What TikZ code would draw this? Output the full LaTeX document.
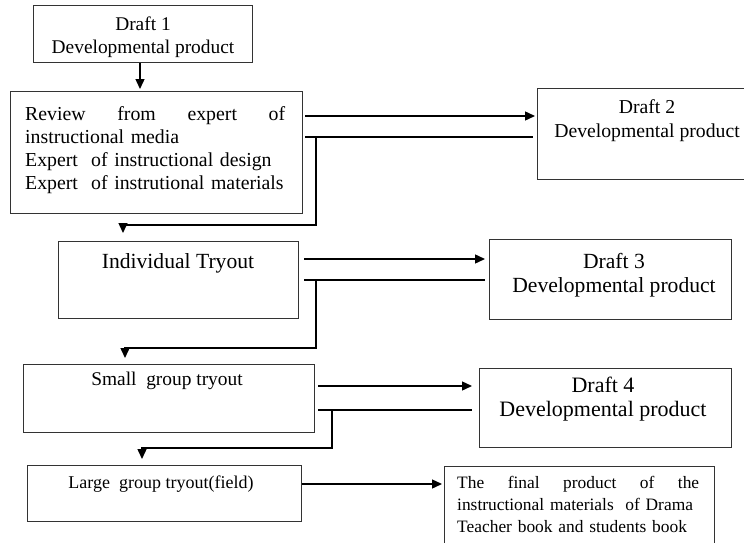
\documentclass[tikz,border=0pt]{standalone}
\usepackage{fontspec}
\setmainfont{Liberation Serif}
\usetikzlibrary{arrows.meta}
\begin{document}
\begin{tikzpicture}[x=1pt,y=-1pt,
  box/.style={draw=black!80, line width=1.3pt, rectangle, inner sep=0pt, anchor=north west},
  conn/.style={draw=black, line width=1.4pt},
  arr/.style={conn, -{Triangle[length=10pt,width=9pt]}},
  txt/.style={inner sep=0pt, align=center},
  fa/.style={font=\fontsize{19.4}{23}\selectfont},
  fb/.style={font=\fontsize{21.6}{24}\selectfont}]
\useasboundingbox (0,0) rectangle (744,543);
% boxes
\node[box, minimum width=219, minimum height=57] (d1) at (33,5) {};
\node[box, minimum width=292, minimum height=122] (rev) at (10,91) {};
\node[box, minimum width=213, minimum height=91] (d2) at (537,88) {};
\node[box, minimum width=240, minimum height=77] (ind) at (58,241) {};
\node[box, minimum width=242, minimum height=80] (d3) at (489,239) {};
\node[box, minimum width=291, minimum height=68] (sm) at (23,364) {};
\node[box, minimum width=252, minimum height=79] (d4) at (479,368) {};
\node[box, minimum width=274, minimum height=56] (lg) at (27,465) {};
\node[box, minimum width=270, minimum height=90] (fin) at (444,466) {};
% texts
\node[txt, fa] (d1t) at (143,37) {Draft 1\\Developmental product};
\node[txt, font=\fontsize{19.8}{23}\selectfont, text width=260, align=left, anchor=north west] (revt) at (25,106)
  {Review\hfill from\hfill expert\hfill of\\instructional media\\Expert\ \ of instructional design\\Expert\ \ of instrutional materials};
\node[txt, font=\fontsize{19.7}{24}\selectfont] (d2t) at (647,121) {Draft 2\\Developmental product};
\node[txt, fb] (indt) at (178,263) {Individual Tryout};
\node[txt, fb] (d3t) at (614,275) {Draft 3\\Developmental product};
\node[txt, fa] (smt) at (167,381) {Small\ \ group tryout};
\node[txt, font=\fontsize{22}{24}\selectfont] (d4t) at (603,399) {Draft 4\\Developmental product};
\node[txt, font=\fontsize{18}{22}\selectfont] (lgt) at (161,484) {Large\ \ group tryout(field)};
\node[txt, font=\fontsize{17.4}{22}\selectfont, text width=242, align=left, anchor=north west] (fint) at (457,476)
  {The\hfill final\hfill product\hfill of\hfill the\\\mbox{instructional materials\ \ of Drama}\\\mbox{Teacher book and students book}};
% junction coordinates
\coordinate (j1) at (316,137);
\coordinate (j2) at (316,280);
\coordinate (j3) at (332,410);
% connectors
\draw[arr, shorten >=2pt] (d1.south -| 140,0) -- (rev.north -| 140,0);
\draw[arr, shorten <=2pt, shorten >=2pt] (rev.east |- 0,116) -- (d2.west |- 0,116);
\draw[conn, shorten <=2pt, shorten >=4pt] (rev.east |- 0,137) -- (d2.west |- 0,137);
\draw[arr, shorten >=8pt] (j1) |- (123,225) -- (ind.north -| 123,0);
\draw[arr, shorten <=5pt, shorten >=4pt] (ind.east |- 0,259) -- (d3.west |- 0,259);
\draw[conn, shorten <=5pt, shorten >=4pt] (ind.east |- 0,280) -- (d3.west |- 0,280);
\draw[arr, shorten >=6pt] (j2) |- (125,348) -- (sm.north -| 125,0);
\draw[arr, shorten <=3pt, shorten >=7pt] (sm.east |- 0,386) -- (d4.west |- 0,386);
\draw[conn, shorten <=3pt, shorten >=7pt] (sm.east |- 0,410) -- (d4.west |- 0,410);
\draw[arr, shorten >=6pt] (j3) |- (142,448) -- (lg.north -| 142,0);
\draw[arr, shorten >=2pt] (lg.east |- 0,484) -- (fin.west |- 0,484);
\end{tikzpicture}
\end{document}
